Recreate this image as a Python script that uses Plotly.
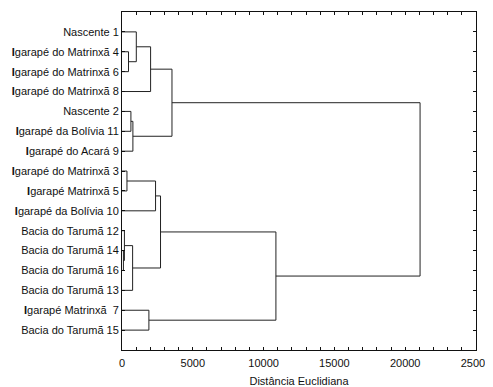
import plotly.graph_objects as go

# Leaves, top to bottom
leaf_labels = [
    "Nascente 1",
    "<b>I</b>garapé do Matrinxã 4",
    "<b>I</b>garapé do Matrinxã 6",
    "<b>I</b>garapé do Matrinxã 8",
    "Nascente 2",
    "<b>I</b>garapé da Bolívia 11",
    "<b>I</b>garapé do Acará 9",
    "<b>I</b>garapé do Matrinxã 3",
    "<b>I</b>garapé Matrinxã 5",
    "<b>I</b>garapé da Bolívia 10",
    "Bacia do Tarumã 12",
    "Bacia do Tarumã 14",
    "Bacia do Tarumã 16",
    "Bacia do Tarumã 13",
    "<b>I</b>garapé Matrinxã\u00a0 7",
    "Bacia do Tarumã 15",
]

# Linkage: (child A, child B, distance); nodes 0-15 are leaves, new clusters numbered 16+
merge_a = [1, 0, 17, 4, 19, 18, 7, 22, 11, 10, 25, 23, 14, 27, 21]
merge_b = [2, 16, 3, 5, 6, 20, 8, 9, 12, 24, 13, 26, 15, 28, 29]
merge_dist = [460, 1010, 2020, 630, 770, 3530, 350, 2370, 100, 170, 750, 2720, 1900, 10870, 21050]

x_ticks = [0, 5000, 10000, 15000, 20000, 25000]

n = len(leaf_labels)
pos = {i: float(i) for i in range(n)}
height = {i: 0.0 for i in range(n)}
xs, ys = [], []
for k, (a, b, d) in enumerate(zip(merge_a, merge_b, merge_dist)):
    c = n + k
    xs += [height[a], d, d, height[b], None]
    ys += [pos[a], pos[a], pos[b], pos[b], None]
    pos[c] = (pos[a] + pos[b]) / 2
    height[c] = d

fig = go.Figure()
fig.add_trace(go.Scatter(x=xs, y=ys, mode="lines",
                         line=dict(color="#222222", width=1),
                         hoverinfo="skip", showlegend=False))

minor_vals = list(range(0, 25001, 1000))
minor_text = [str(v) if v in x_ticks else "" for v in minor_vals]

# page body has an 8px default margin, so the figure is sized to fit the window
fig.update_layout(
    width=485, height=379,
    margin=dict(l=114, r=17, t=4, b=37, autoexpand=False),
    paper_bgcolor="white", plot_bgcolor="white",
    font=dict(family="Liberation Sans, Arial, sans-serif", size=11, color="#111111"),
    xaxis=dict(range=[0, 25000], tickvals=minor_vals, ticktext=minor_text,
               ticks="inside", ticklen=3, tickcolor="#111111", automargin=False,
               ticklabelstandoff=3,
               showgrid=False, zeroline=False, showline=True, linecolor="#111111",
               linewidth=1, mirror="ticks",
               title=dict(text="Distância Euclidiana", standoff=11,
                          font=dict(size=11))),
    yaxis=dict(range=[n, -1], tickvals=list(range(n)), ticktext=leaf_labels,
               ticks="inside", ticklen=3, tickcolor="#111111", automargin=False,
               showgrid=False, zeroline=False, showline=True, linecolor="#111111",
               linewidth=1, mirror="ticks"),
)

fig.write_html("out.html")
